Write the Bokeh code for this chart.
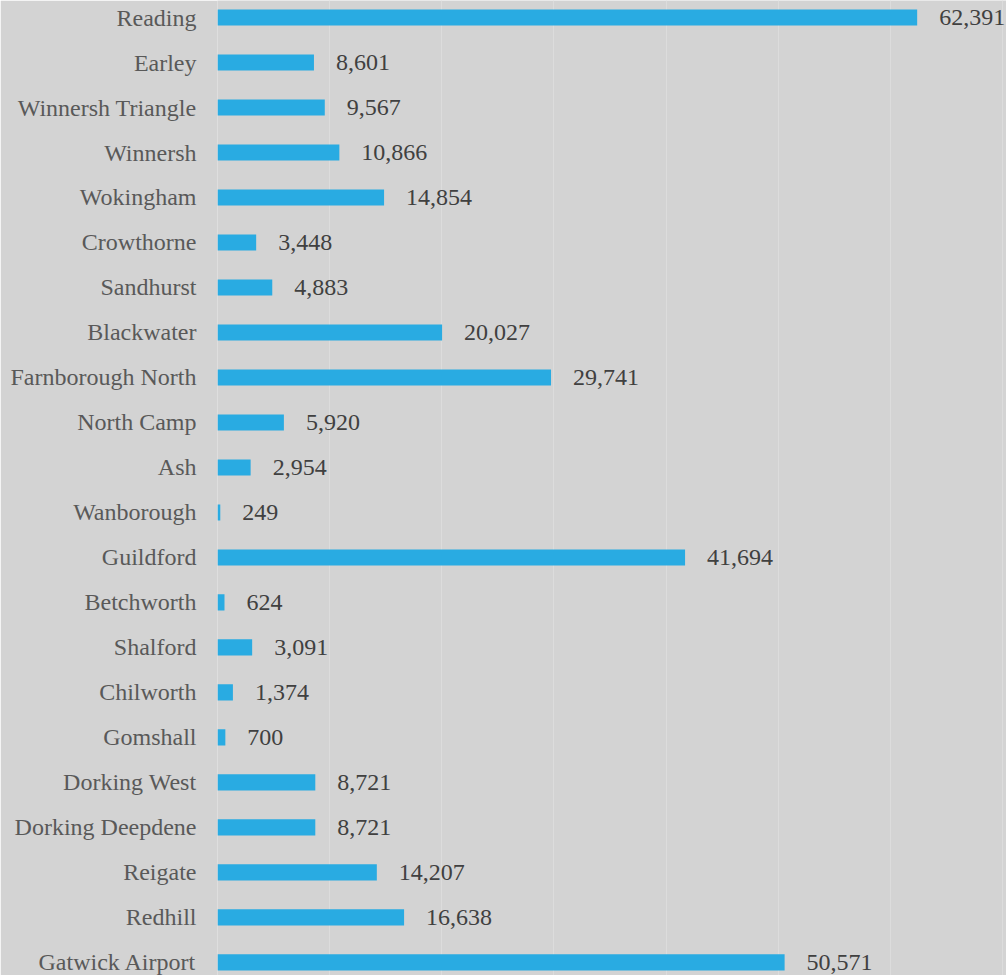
from bokeh.plotting import figure
from bokeh.models import ColumnDataSource, Range1d, FixedTicker
from bokeh.embed import file_html
from bokeh.resources import INLINE
from bokeh.core.properties import value

stations = ["Reading", "Earley", "Winnersh Triangle", "Winnersh", "Wokingham",
            "Crowthorne", "Sandhurst", "Blackwater", "Farnborough North",
            "North Camp", "Ash", "Wanborough", "Guildford", "Betchworth",
            "Shalford", "Chilworth", "Gomshall", "Dorking West",
            "Dorking Deepdene", "Reigate", "Redhill", "Gatwick Airport"]
passengers = [62391, 8601, 9567, 10866, 14854, 3448, 4883, 20027, 29741,
              5920, 2954, 249, 41694, 624, 3091, 1374, 700, 8721, 8721,
              14207, 16638, 50571]
x_ticks = [0, 10000, 20000, 30000, 40000, 50000, 60000, 70000]

idx = list(range(len(stations)))
labels = [f"{v:,}" for v in passengers]

src = ColumnDataSource(dict(y=idx, v=passengers, lab=labels, name=stations))

BG = "#d3d3d3"
FONT = "Liberation Serif"

p = figure(width=1006, height=975, output_backend="svg", toolbar_location=None,
           x_range=Range1d(0, 70357), y_range=Range1d(21.29, -0.378),
           min_border_left=217, min_border_right=0, min_border_top=0,
           min_border_bottom=0)
p.background_fill_color = BG
p.border_fill_color = BG
p.outline_line_color = None

p.hbar(y="y", right="v", left=0, height=0.36, source=src,
       fill_color="#29abe2", line_color=None)
p.text(x="v", y="y", text="lab", source=src, x_offset=22,
       text_font=value(FONT), text_font_size="24px", text_color="#404040",
       text_baseline="middle", text_align="left")

p.xaxis.visible = False
p.xgrid.ticker = FixedTicker(ticks=x_ticks)
p.xgrid.grid_line_color = "#dcdcdc"
p.xgrid.grid_line_width = 1
p.ygrid.grid_line_color = None

ya = p.yaxis[0]
ya.ticker = FixedTicker(ticks=idx)
ya.major_label_overrides = {i: s for i, s in zip(idx, stations)}
ya.major_tick_out = 0
ya.major_tick_in = 0
ya.minor_tick_out = 0
ya.minor_tick_in = 0
ya.axis_line_color = None
ya.major_label_standoff = 21
ya.major_label_text_font = FONT
ya.major_label_text_font_size = "24px"
ya.major_label_text_color = "#595959"

open("out.html", "w").write(file_html(p, INLINE))
